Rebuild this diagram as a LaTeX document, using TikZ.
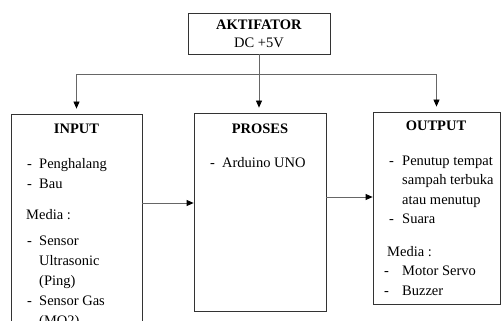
\documentclass[tikz,border=0pt]{standalone}
\usepackage{fontspec}
\setmainfont{Liberation Serif}
\usetikzlibrary{arrows.meta,positioning,calc}

\begin{document}
\begin{tikzpicture}[
  x=1pt, y=-1pt,
  box/.style={
    rectangle, draw=black!80, line width=0.8pt, inner sep=0pt
  },
  title/.style={
    font=\fontsize{14.5}{18}\selectfont\bfseries, anchor=base, inner sep=0pt
  },
  body/.style={
    anchor=base west, inner sep=0pt, align=left
  },
  arr/.style={-{Triangle[width=6pt,length=7pt,color=black]}, draw=black!60, line width=0.8pt},
  conn/.style={draw=black!60, line width=0.8pt}
]
\useasboundingbox (0,0) rectangle (501,321);
\clip (0,0) rectangle (501,321);

% Boxes
\node[box, minimum width=142pt, minimum height=41pt, align=center,
  font=\fontsize{14.5}{18}\selectfont] (akt) at (259,33.5)
  {\textbf{AKTIFATOR}\\DC +5V};
\node[box, minimum width=131pt, minimum height=221pt] (inbox) at (76.5,224.5) {};
\node[box, minimum width=132pt, minimum height=198pt] (procbox) at (260,212) {};
\node[box, minimum width=127pt, minimum height=192pt] (outbox) at (436.5,208) {};

% Titles
\node[title] (intitle) at (76.5,133) {INPUT};
\node[title] (proctitle) at (260,133) {PROSES};
\node[title] (outtitle) at (436,131) {OUTPUT};

% Box contents
\node[body, font=\fontsize{14.5}{20}\selectfont] (inlist) at (27,168)
  {\begin{tabular}[t]{@{}p{12pt}@{}l@{}}
   - & Penghalang\\
   - & Bau\\[11pt]
   \multicolumn{2}{@{}l@{}}{\hspace*{-1pt}Media :}\\[6pt]
   - & Sensor\\
     & Ultrasonic\\
     & (Ping)\\
   - & Sensor Gas\\
     & (MQ2)
   \end{tabular}};
\node[body, font=\fontsize{14.5}{20}\selectfont] (proclist) at (210,167)
  {\begin{tabular}[t]{@{}p{12pt}@{}l@{}}
   - & Arduino UNO
   \end{tabular}};
\node[body, font=\fontsize{14.5}{19.5}\selectfont] (outlist) at (389,165)
  {\begin{tabular}[t]{@{}p{13pt}@{}l@{}}
   - & Penutup tempat\\
     & sampah terbuka\\
     & atau menutup\\
   - & Suara\\[13pt]
   \multicolumn{2}{@{}l@{}}{\hspace*{-2pt}Media :}\\
   \hspace*{-5pt}- & Motor Servo\\
   \hspace*{-5pt}- & Buzzer
   \end{tabular}};

% Supply lines
\coordinate (split) at ($(akt.south)+(0,20)$);
\draw[conn] (akt.south) -- (split);
\draw[arr, shorten >=5pt] (split) -| (inbox.north);
\draw[arr, shorten >=5pt] (split) -| (outbox.north);
\draw[arr, shorten >=5pt] (split) -- (split |- procbox.north);

% Signal flow
\draw[arr] ([yshift=9pt]procbox.west -| inbox.east) -- ([yshift=9pt]procbox.west);
\draw[arr] ([yshift=11pt]outbox.west -| procbox.east) -- ([yshift=11pt]outbox.west);

\end{tikzpicture}
\end{document}
